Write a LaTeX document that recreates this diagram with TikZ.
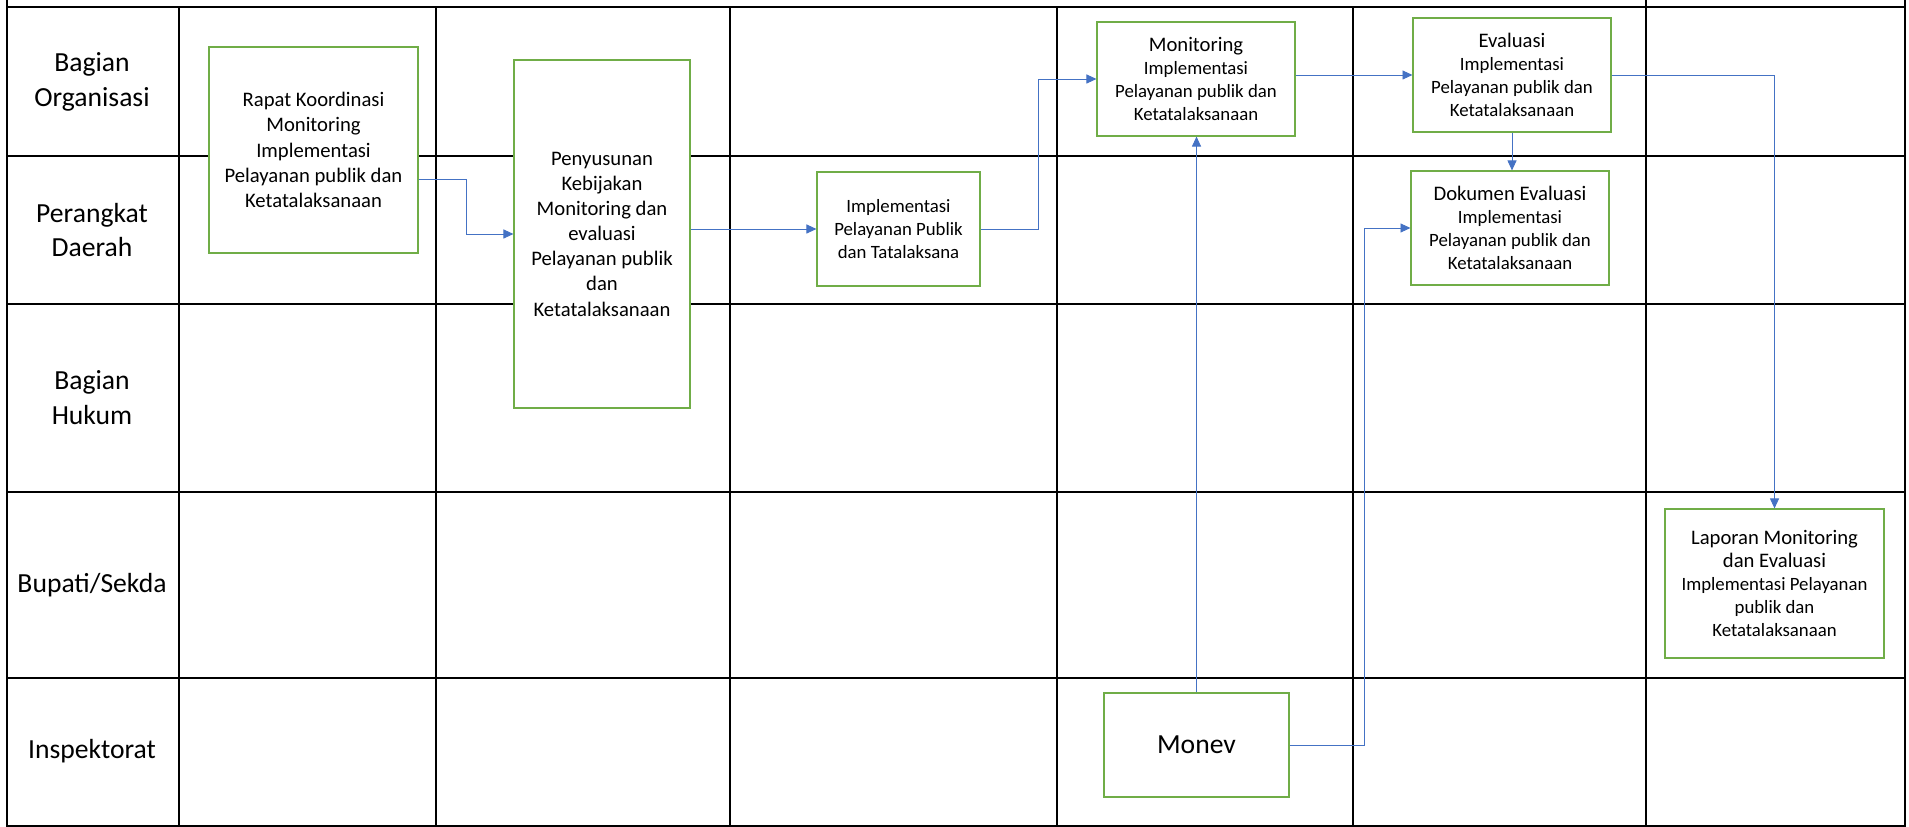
\documentclass[tikz,border=0pt]{standalone}
\usepackage{fontspec}
\setmainfont{Carlito}
\usetikzlibrary{arrows.meta,positioning,calc}

\definecolor{boxgreen}{RGB}{112,173,71}
\definecolor{flowblue}{RGB}{68,114,196}

\begin{document}
\begin{tikzpicture}[x=0.0187cm,y=-0.0187cm]
			\tikzset{
				lane/.style = {font={\fontsize{14.7}{18.6}\selectfont}, align=center},
				box/.style = {draw=boxgreen, line width=0.65pt, fill=white, align=center, inner sep=0pt, font={\fontsize{10}{12.2}\selectfont}},
				bigbox/.style = {box, font={\fontsize{11}{13.4}\selectfont}},
				boxsize/.style 2 args = {minimum width=#1*0.532pt, minimum height=#2*0.532pt},
				arrow/.style={-{Triangle[length=5.3pt,width=4.8pt]}, draw=flowblue, line width=0.45pt},
				grid/.style={line width=0.9pt},
			}

			\useasboundingbox (0,0) rectangle (1909,827);

			\draw[grid] (7,0) -- (7,826) -- (1905,826) -- (1905,0);
			\draw[grid] (7,7) -- (1905,7);
			\foreach \y in {156, 304, 492, 678}
				{
					\draw[grid] (7,\y) -- (1905,\y);
				}
			\foreach \x in {179, 436, 730, 1057, 1353}
				{
					\draw[grid] (\x,7) -- (\x,826);
				}
			\draw[grid] (1646,0) -- (1646,826);

			\foreach \name/\y/\txt in {org/81.5/{Bagian\\Organisasi}, pd/230/{Perangkat\\Daerah}, hukum/398/{Bagian\\Hukum}, bupati/585/{Bupati/Sekda}, insp/751.5/{Inspektorat}}
				{
					\node[lane] (\name) at (92,\y) {\txt};
				}

			\node[bigbox, boxsize={209}{206}] (rapat) at (313.5,150) {Rapat Koordinasi\\Monitoring\\Implementasi\\Pelayanan publik dan\\Ketatalaksanaan};
			\node[bigbox, boxsize={176}{348}] (penyusunan) at (602,234) {Penyusunan\\Kebijakan\\Monitoring dan\\evaluasi\\Pelayanan publik\\dan\\Ketatalaksanaan};
			\node[box, boxsize={163}{114}] (impl) at (898.5,229) {Implementasi\\Pelayanan Publik\\dan Tatalaksana};
			\node[box, boxsize={198}{114}] (monitoring) at (1196,79) {{\fontsize{11}{13.4}\selectfont Monitoring}\\Implementasi\\Pelayanan publik dan\\Ketatalaksanaan};
			\node[box, boxsize={198}{114}] (evaluasi) at (1512,75) {{\fontsize{11}{13.4}\selectfont Evaluasi}\\Implementasi\\Pelayanan publik dan\\Ketatalaksanaan};
			\node[box, boxsize={198}{114}] (dokumen) at (1510,228) {{\fontsize{11}{13.4}\selectfont Dokumen Evaluasi}\\Implementasi\\Pelayanan publik dan\\Ketatalaksanaan};
			\node[box, boxsize={219}{149}] (laporan) at (1774.5,583.5) {{\fontsize{11}{13.4}\selectfont Laporan Monitoring}\\{\fontsize{11}{13.4}\selectfont dan Evaluasi}\\Implementasi Pelayanan\\publik dan\\Ketatalaksanaan};
			\node[box, boxsize={185}{104}, font={\fontsize{14.7}{18.6}\selectfont}] (monev) at (1196.5,745) {Monev};

			\draw[arrow] ($(rapat.east)+(0,29)$) -- ++(48,0) |- (penyusunan.west);
			\draw[arrow] (penyusunan.east |- impl.west) -- (impl.west);
			\draw[arrow] (impl.east) -- ++(58,0) |- (monitoring.west);
			\draw[arrow] (monitoring.east |- evaluasi.west) -- (evaluasi.west);
			\draw[arrow] (evaluasi.south) -- (evaluasi.south |- dokumen.north);
			\draw[arrow] (evaluasi.east) -| (laporan.north);
			\draw[arrow] (monev.north) -- (monev.north |- monitoring.south);
			\draw[arrow] (monev.east) -- ++(75,0) |- (dokumen.west);

		\end{tikzpicture}
\end{document}
